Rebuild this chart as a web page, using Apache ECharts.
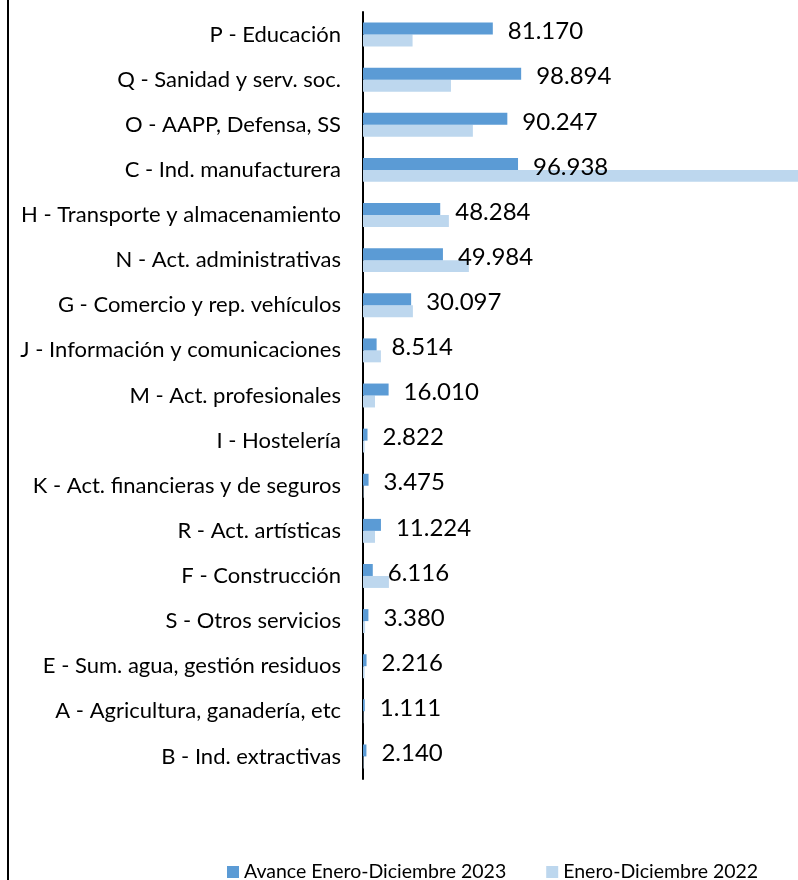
<!DOCTYPE html>
<html>
<head>
<meta charset="utf-8">
<script src="https://cdn.jsdelivr.net/npm/echarts@6/dist/echarts.min.js"></script>
<style>
  html, body { margin: 0; padding: 0; background: #fff; }
  #chart { width: 798px; height: 880px; }
</style>
</head>
<body>
<div id="chart"></div>
<script>
const categories = [
  'P - Educación',
  'Q - Sanidad y serv. soc.',
  'O - AAPP, Defensa, SS',
  'C - Ind. manufacturera',
  'H - Transporte y almacenamiento',
  'N - Act. administrativas',
  'G - Comercio y rep. vehículos',
  'J - Información y comunicaciones',
  'M - Act. profesionales',
  'I - Hostelería',
  'K - Act. financieras y de seguros',
  'R - Act. artísticas',
  'F - Construcción',
  'S - Otros servicios',
  'E - Sum. agua, gestión residuos',
  'A - Agricultura, ganadería, etc',
  'B - Ind. extractivas',
]

// Avance Enero-Diciembre 2023
const values2023 = [81170, 98894, 90247, 96938, 48284, 49984, 30097, 8514, 16010, 2822, 3475, 11224, 6116, 3380, 2216, 1111, 2140]
// Enero-Diciembre 2022 (C runs off the plot)
const values2022 = [31000, 55000, 68700, 300000, 53700, 66200, 31200, 11200, 7500, 1000, 300, 7500, 16200, 1300, 1000, 200, 300]

const seriesNames = ['Avance Enero-Diciembre 2023', 'Enero-Diciembre 2022']

const fmt = (v) => Math.round(v).toLocaleString('de-DE')

const chart = echarts.init(document.getElementById('chart'))

const font = "Lato, 'Open Sans', sans-serif"

chart.setOption({
  backgroundColor: '#fff',
  animation: false,
  textStyle: { fontFamily: font },
  grid: {
    left: 363,
    right: 0,
    top: 12,
    bottom: 101,
    containLabel: false,
  },
  legend: {
    top: 862,
    left: 227,
    padding: 0,
    itemWidth: 12,
    itemHeight: 12,
    itemGap: 40,
    icon: 'rect',
    textStyle: { color: '#000', fontSize: 19.5, fontFamily: font },
    data: seriesNames,
  },
  xAxis: {
    type: 'value',
    min: 0,
    max: 272000,
    axisLine: { show: false },
    axisTick: { show: false },
    axisLabel: { show: false },
    splitLine: { show: false },
  },
  yAxis: {
    type: 'category',
    inverse: true,
    data: categories,
    axisLine: { show: true, lineStyle: { color: '#000', width: 2 } },
    axisTick: { show: false },
    axisLabel: { color: '#000', fontSize: 22, margin: 22, fontFamily: font },
  },
  series: [
    {
      name: seriesNames[0],
      type: 'bar',
      data: values2023,
      barGap: '0%',
      barCategoryGap: '47%',
      itemStyle: { color: '#5B9BD5' },
      label: {
        show: true,
        position: 'right',
        distance: 15,
        offset: [0, 3],
        color: '#000',
        fontSize: 24,
        fontFamily: font,
        formatter: (p) => fmt(p.value),
      },
      z: 3,
    },
    {
      name: seriesNames[1],
      type: 'bar',
      data: values2022,
      itemStyle: { color: '#BDD7EE' },
      z: 2,
    },
  ],
  graphic: [
    {
      type: 'rect',
      left: 7,
      top: 0,
      shape: { width: 2, height: 880 },
      style: { fill: '#000' },
    },
  ],
})
</script>
</body>
</html>
